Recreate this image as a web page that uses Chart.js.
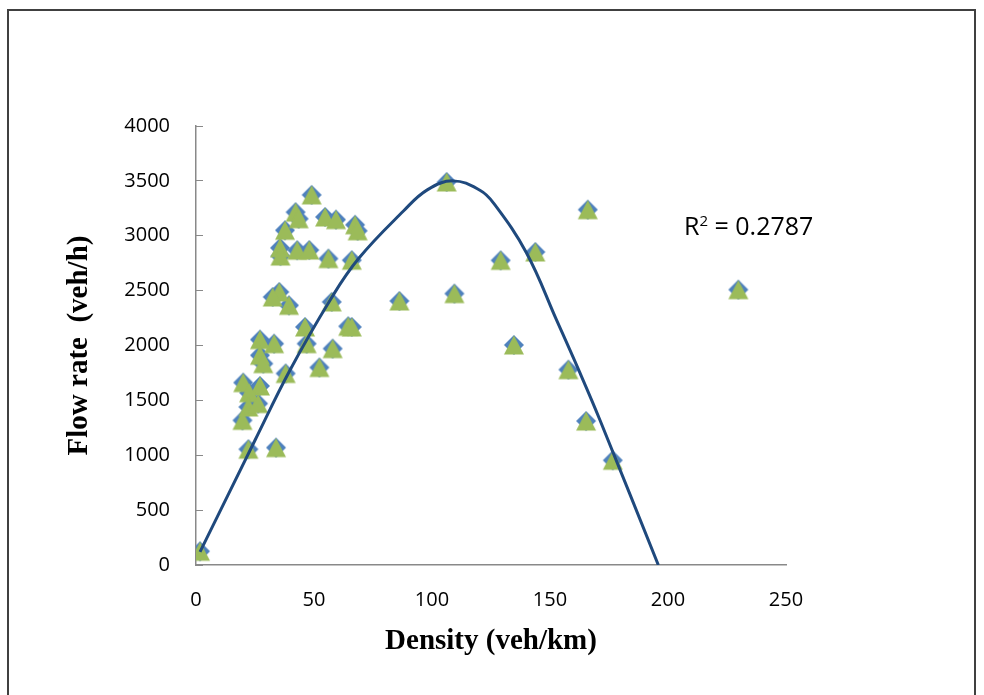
<!DOCTYPE html>
<html>
<head>
<meta charset="utf-8">
<script src="https://cdn.jsdelivr.net/npm/chart.js@4.4.0/dist/chart.umd.min.js"></script>
<style>
  html, body { margin: 0; padding: 0; background: #fff; }
  #wrap { position: relative; width: 984px; height: 695px; overflow: hidden; }
  #frame { position: absolute; left: 7px; top: 9px; width: 969px; height: 740px; border: 2px solid #404040; box-sizing: border-box; pointer-events: none; }
  canvas { display: block; }
</style>
</head>
<body>
<div id="wrap">
  <canvas id="chart" width="984" height="695"></canvas>
  <div id="frame"></div>
</div>
<script>
// observed points: density (veh/km) vs flow rate (veh/h)
const density = [1.7, 22.2, 33.9, 49.0, 42.2, 43.5, 54.7, 59.3, 67.4, 68.5,
                 37.7, 35.6, 35.8, 42.9, 48.0, 56.1, 66.0, 35.3, 32.5, 39.4,
                 57.5, 86.2, 109.5, 106.2, 46.2, 64.5, 66.0, 33.1, 46.9, 57.9,
                 52.3, 38.0, 27.1, 27.1, 28.5, 20.0, 27.1, 22.5, 22.2, 26.3,
                 19.7, 166.0, 129.1, 143.8, 134.7, 157.8, 165.3, 176.6, 229.8];
const flow = [125, 1055, 1070, 3372, 3215, 3155, 3171, 3147, 3100, 3045,
              3050, 2890, 2815, 2868, 2870, 2792, 2777, 2488, 2442, 2366,
              2397, 2406, 2473, 3490, 2169, 2175, 2169, 2017, 2017, 1972,
              1800, 1745, 2054, 1911, 1835, 1662, 1631, 1570, 1440, 1471,
              1318, 3238, 2776, 2852, 2005, 1780, 1312, 954, 2509];

// polynomial trendline
const trendDensity = [1.7, 25, 39.8, 56.8, 68.8, 87.9, 98, 109, 120.3, 126, 140, 152.8, 162.7, 171.2, 195.9];
const trendFlow = [119, 1137, 1775, 2413, 2790, 3225, 3418, 3500, 3415, 3300, 2845, 2231, 1750, 1319, 0];

const xTicks = [0, 50, 100, 150, 200, 250];
const yTicks = [0, 500, 1000, 1500, 2000, 2500, 3000, 3500, 4000];
const rSquared = '0.2787';

const points = density.map((d, i) => ({ x: d, y: flow[i] }));
const trendPoints = trendDensity.map((d, i) => ({ x: d, y: trendFlow[i] }));

// excel style markers: blue diamond under a green triangle
function makeMarker(draw) {
    const c = document.createElement('canvas');
    c.width = 22;
    c.height = 22;
    draw(c.getContext('2d'));
    return c;
}
const diamondImg = makeMarker(g => {
    g.fillStyle = '#4F81BD';
    g.beginPath();
    g.moveTo(11, 1); g.lineTo(21, 11); g.lineTo(11, 21); g.lineTo(1, 11);
    g.closePath();
    g.fill();
});
const triangleImg = makeMarker(g => {
    g.fillStyle = '#9BBB59';
    g.beginPath();
    g.moveTo(11, 1.5); g.lineTo(21, 20.5); g.lineTo(1, 20.5);
    g.closePath();
    g.fill();
});

// R² label next to the curve
const r2Label = {
    id: 'r2Label',
    afterDatasetsDraw(chart) {
        const ctx = chart.ctx;
        ctx.save();
        ctx.fillStyle = '#000';
        ctx.textBaseline = 'alphabetic';
        ctx.textAlign = 'left';
        let x = 684, y = 235;
        ctx.font = '25px "Open Sans"';
        ctx.fillText('R', x, y);
        x += ctx.measureText('R').width;
        ctx.font = '15px "Open Sans"';
        ctx.fillText('2', x, y - 9);
        x += ctx.measureText('2').width;
        ctx.font = '25px "Open Sans"';
        ctx.fillText(' = ' + rSquared, x, y);
        ctx.restore();
    }
};

const axisGray = '#898989';
const tickFont = { family: '"Open Sans"', size: 20 };
const titleFont = { family: '"Liberation Serif"', size: 29, weight: 'bold' };

new Chart(document.getElementById('chart'), {
    type: 'scatter',
    data: {
        datasets: [
            {
                type: 'line',
                data: trendPoints,
                borderColor: '#1F497D',
                borderWidth: 3,
                pointRadius: 0,
                tension: 0.4,
                fill: false,
                order: 0
            },
            { data: points, pointStyle: triangleImg, order: 1 },
            { data: points, pointStyle: diamondImg, order: 2 }
        ]
    },
    options: {
        responsive: false,
        animation: false,
        events: [],
        layout: { padding: { left: 0, top: 126, right: 198, bottom: 0 } },
        plugins: {
            legend: { display: false },
            tooltip: { enabled: false }
        },
        scales: {
            x: {
                type: 'linear',
                min: 0,
                max: 250,
                afterBuildTicks: s => { s.ticks = xTicks.map(v => ({ value: v })); },
                afterFit: s => { s.height = 130; },
                grid: { display: false, drawTicks: false },
                border: { display: true, color: axisGray, width: 1.5 },
                ticks: { color: '#000', font: tickFont, padding: 23, callback: v => String(v) },
                title: {
                    display: true,
                    text: 'Density (veh/km)',
                    color: '#000',
                    font: titleFont,
                    padding: { top: 0, bottom: 36 }
                }
            },
            y: {
                min: 0,
                max: 4000,
                afterBuildTicks: s => { s.ticks = yTicks.map(v => ({ value: v })); },
                afterFit: s => { s.width = 196; },
                grid: { display: true, drawOnChartArea: false, drawTicks: true, tickLength: -7, color: axisGray, lineWidth: 1 },
                border: { display: true, color: axisGray, width: 1.5 },
                ticks: { color: '#000', font: tickFont, padding: 33, callback: v => String(v) },
                title: {
                    display: true,
                    text: 'Flow rate  (veh/h)',
                    color: '#000',
                    font: titleFont,
                    padding: { top: 62, bottom: 0 }
                }
            }
        }
    },
    plugins: [r2Label]
});
</script>
</body>
</html>
